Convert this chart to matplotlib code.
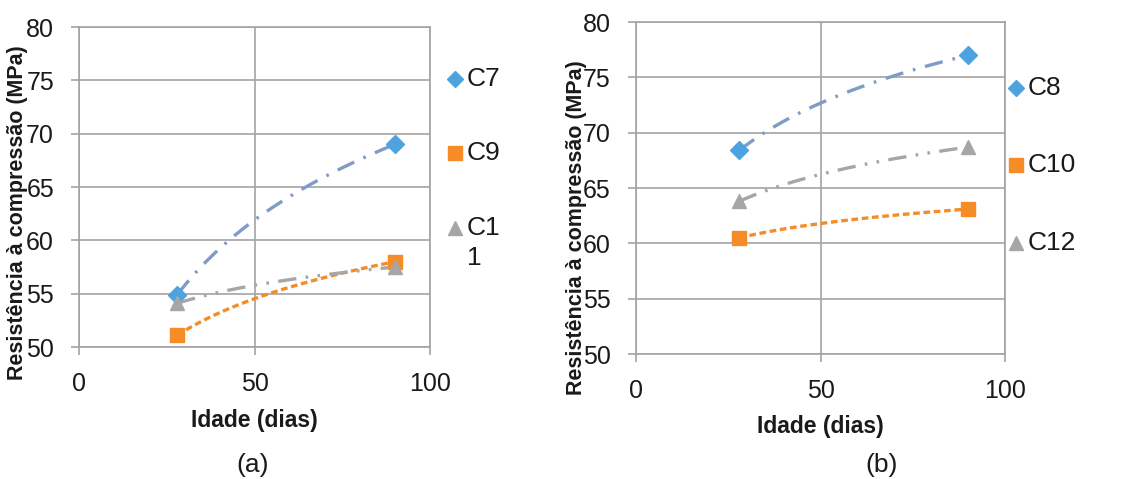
import numpy as np
import matplotlib
matplotlib.use("Agg")
import matplotlib.pyplot as plt

plt.rcParams['font.family'] = ['Liberation Sans', 'DejaVu Sans']

# Data
ages = [28, 90]
# panel (a)
a_labels = ["C7", "C9", "C1\n1"]
a_C7 = [54.9, 69.0]
a_C9 = [51.1, 58.0]
a_C11 = [54.1, 57.5]
# panel (b)
b_labels = ["C8", "C10", "C12"]
b_C8 = [68.4, 77.0]
b_C10 = [60.5, 63.1]
b_C12 = [63.8, 68.7]

xticks = [0, 50, 100]
yticks = [50, 55, 60, 65, 70, 75, 80]

BLUE = "#4ea2df"
BLUE_LINE = "#7f9cc4"
ORANGE = "#f58c28"
GRAY = "#a6a6a6"
GRID = "#a3a3a3"
TXT = "#1a1a1a"

styles = [
    dict(marker="D", mcolor=BLUE, lcolor=BLUE_LINE, dashes=(5.5, 3, 0.8, 3), ms=9),
    dict(marker="s", mcolor=ORANGE, lcolor=ORANGE, dashes=(2.0, 1.1), ms=10),
    dict(marker="^", mcolor=GRAY, lcolor=GRAY, dashes=(5.5, 2.8, 0.8, 2.8, 0.8, 2.8), ms=10),
]

fig = plt.figure(figsize=(11.3, 4.79), dpi=100)
ax_a = fig.add_axes([79/1130, 1-347/479, (430-79)/1130, (347-27)/479])
ax_b = fig.add_axes([636/1130, 1-354/479, (1005-636)/1130, (354-22)/479])


def log_trend(x, y):
    x = np.asarray(x, float)
    y = np.asarray(y, float)
    A = np.vstack([np.log(x), np.ones_like(x)]).T
    k, c = np.linalg.lstsq(A, y, rcond=None)[0]
    xs = np.linspace(x.min(), x.max(), 200)
    return xs, k * np.log(xs) + c


def draw(ax, series, ylab_xy):
    for y, st in zip(series, styles):
        xs, ys = log_trend(ages, y)
        ax.plot(xs, ys, color=st["lcolor"], lw=2.4, dashes=st["dashes"], zorder=3)
        ax.plot(ages, y, linestyle="none", marker=st["marker"], ms=st["ms"],
                color=st["mcolor"], mec=st["mcolor"], zorder=4)
    ax.set_xlim(0, 100)
    ax.set_ylim(50, 80)
    ax.set_xticks(xticks)
    ax.set_yticks(yticks)
    ax.grid(True, color=GRID, lw=1.2)
    ax.set_axisbelow(True)
    for s in ax.spines.values():
        s.set_color(GRID)
        s.set_linewidth(1.2)
    ax.tick_params(axis="both", colors=GRID, length=6, width=1.2, labelsize=18,
                   labelcolor=TXT)
    ax.tick_params(axis="y", pad=12)
    ax.tick_params(axis="x", pad=12)
    ax.set_xlabel("Idade (dias)", fontsize=16.5, fontweight="bold", labelpad=9,
                  color=TXT)
    ax.set_ylabel("Resistência à compressão (MPa)", fontsize=15.5, fontweight="bold",
                  color=TXT, va="center")
    ax.yaxis.set_label_coords(*ylab_xy)


draw(ax_a, [a_C7, a_C9, a_C11], (-0.174, 0.42))
draw(ax_b, [b_C8, b_C10, b_C12], (-0.160, 0.38))


def legend(labels, x_px, ys_px):
    for lab, yp, st in zip(labels, ys_px, styles):
        fx = x_px / 1130
        fy = 1 - yp / 479
        fig.lines.append(plt.Line2D([fx], [fy], transform=fig.transFigure,
                                    marker=st["marker"], ms=st["ms"] * 0.95,
                                    color=st["mcolor"], linestyle="none"))
        parts = lab.split("\n")
        fig.text(fx + 12/1130, fy, parts[0], fontsize=19, va="center", ha="left",
                 color=TXT)
        if len(parts) > 1:
            fig.text(fx + 12/1130, fy - 30/479, parts[1], fontsize=19, va="center",
                     ha="left", color=TXT)


legend(a_labels, 455, [79, 153, 228])
legend(b_labels, 1016, [88, 165, 243])

fig.text(253/1130, 1-465/479, "(a)", fontsize=19, ha="center", va="center", color=TXT)
fig.text(882/1130, 1-465/479, "(b)", fontsize=19, ha="center", va="center", color=TXT)

fig.savefig("out.png", dpi=100, facecolor="white")
